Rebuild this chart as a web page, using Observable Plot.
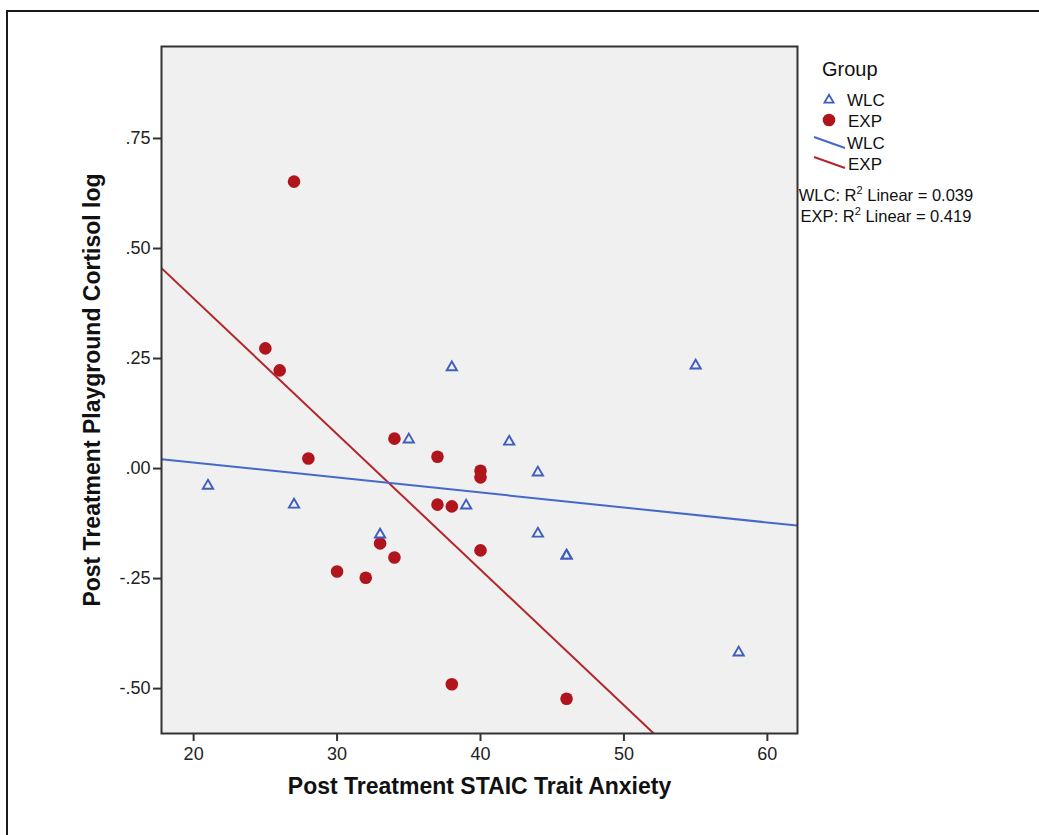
<!DOCTYPE html>
<html><head><meta charset="utf-8">
<script src="https://cdn.jsdelivr.net/npm/d3@7"></script>
<script src="https://cdn.jsdelivr.net/npm/@observablehq/plot@0.6"></script>
<style>
body{margin:0;background:#fff;font-family:"Liberation Sans",Arial,sans-serif}
#wrap{position:relative;width:1039px;height:835px;overflow:hidden}
#border{position:absolute;left:6px;top:10px;width:1100px;height:900px;border-left:2px solid #1a1a1a;border-top:2px solid #1a1a1a;pointer-events:none}
#wrap svg{position:absolute;left:0;top:0}
</style></head><body><div id="wrap"><div id="border"></div></div>
<script>
const groups = ["WLC", "EXP"];
const wlcAnxiety  = [21, 27, 33, 35, 38, 39, 42, 44, 44, 46, 46, 55, 58];
const wlcCortisol = [-0.039, -0.082, -0.150, 0.066, 0.230, -0.084, 0.061, -0.009, -0.148, -0.198, -0.198, 0.234, -0.418];
const expAnxiety  = [27, 25, 26, 28, 34, 37, 40, 40, 37, 38, 33, 34, 40, 30, 32, 38, 46];
const expCortisol = [0.652, 0.273, 0.223, 0.023, 0.068, 0.027, -0.005, -0.020, -0.082, -0.086, -0.170, -0.202, -0.186, -0.234, -0.248, -0.490, -0.523];
const xTicks = [20, 30, 40, 50, 60];
const yTicks = [-0.5, -0.25, 0, 0.25, 0.5, 0.75];
const r2Labels = [["WLC", "0.039"], ["EXP", "0.419"]];
const xTitle = "Post Treatment STAIC Trait Anxiety";
const yTitle = "Post Treatment Playground Cortisol log";
const legendTitle = "Group";

const xDomain = [17.76, 62.1];
const yDomain = [-0.602, 0.959];
const RED = "#b0141c", BLUE = "#3e5dbf", LRED = "#b3262a", LBLUE = "#4668c8";

const wlc = wlcAnxiety.map((x, i) => ({x, y: wlcCortisol[i], g: groups[0]}));
const exp = expAnxiety.map((x, i) => ({x, y: expCortisol[i], g: groups[1]}));

function fit(rows) {
  const mx = d3.mean(rows, d => d.x), my = d3.mean(rows, d => d.y);
  const b = d3.sum(rows, d => (d.x - mx) * (d.y - my)) / d3.sum(rows, d => (d.x - mx) ** 2);
  const a = my - b * mx;
  return xDomain.map(x => ({x, y: a + b * x}));
}
const wlcFit = fit(wlc), expFit = fit(exp);
const fmt = d => (d < 0 ? "-" : "") + Math.abs(d).toFixed(2).replace(/^0/, "");

const chart = Plot.plot({
  width: 1039, height: 835,
  marginLeft: 161, marginRight: 242, marginTop: 46, marginBottom: 102,
  style: {fontFamily: "'Liberation Sans', Arial, sans-serif", background: "transparent", overflow: "visible"},
  x: {domain: xDomain, ticks: xTicks},
  y: {domain: yDomain, ticks: yTicks},
  marks: [
    Plot.frame({fill: "#f0f0f0"}),
    Plot.line(expFit, {x: "x", y: "y", stroke: LRED, strokeWidth: 2, clip: true}),
    Plot.line(wlcFit, {x: "x", y: "y", stroke: LBLUE, strokeWidth: 2, clip: true}),
    Plot.dot(exp, {x: "x", y: "y", r: 6.3, fill: RED, stroke: "none"}),
    Plot.dot(wlc, {x: "x", y: "y", symbol: "triangle", r: 3.8, fill: "none", stroke: BLUE, strokeWidth: 1.9}),
    Plot.frame({stroke: "#333", strokeWidth: 2}),
    Plot.axisX({ticks: xTicks, tickSize: 8, tickPadding: 6, fontSize: 18, label: null, stroke: "#333", strokeWidth: 2, color: "#222"}),
    Plot.axisY({ticks: yTicks, tickSize: 8, tickPadding: 3, fontSize: 18, label: null, tickFormat: fmt, stroke: "#333", strokeWidth: 2, color: "#222"}),
    Plot.text([xTitle], {frameAnchor: "bottom", dy: 60, fontSize: 23, fontWeight: "bold", fill: "#111", textAnchor: "middle"}),
    Plot.text([yTitle], {frameAnchor: "left", dx: -69, rotate: -90, fontSize: 23, fontWeight: "bold", fill: "#111", textAnchor: "middle"})
  ]
});
document.getElementById("wrap").appendChild(chart);

// legend
const svg = d3.select(chart);
const lg = svg.append("g").attr("font-family", "'Liberation Sans', Arial, sans-serif").attr("fill", "#111").attr("text-anchor", "start");
lg.append("text").attr("x", 822).attr("y", 76).attr("font-size", 20).text(legendTitle);
lg.append("path").attr("d", d3.symbol(d3.symbolTriangle, 36)()).attr("transform", "translate(829,100)")
  .attr("fill", "none").attr("stroke", BLUE).attr("stroke-width", 1.8);
lg.append("text").attr("x", 847).attr("y", 106).attr("font-size", 17).text(groups[0]);
lg.append("circle").attr("cx", 829).attr("cy", 120).attr("r", 6.3).attr("fill", RED);
lg.append("text").attr("x", 848).attr("y", 127).attr("font-size", 17).text(groups[1]);
lg.append("line").attr("x1", 814).attr("y1", 137).attr("x2", 845).attr("y2", 148).attr("stroke", LBLUE).attr("stroke-width", 2);
lg.append("text").attr("x", 847).attr("y", 149).attr("font-size", 17).text(groups[0]);
lg.append("line").attr("x1", 814).attr("y1", 157).attr("x2", 845).attr("y2", 168).attr("stroke", LRED).attr("stroke-width", 2);
lg.append("text").attr("x", 848).attr("y", 170).attr("font-size", 17).text(groups[1]);
r2Labels.forEach(([g, v], i) => {
  const t = lg.append("text").attr("x", 886).attr("y", 201 + i * 21).attr("font-size", 16.5).attr("text-anchor", "middle");
  t.append("tspan").text(g + ": R");
  t.append("tspan").attr("font-size", 11).attr("dy", -7).text("2");
  t.append("tspan").attr("dy", 7).text(" Linear = " + v);
});
</script>
</body></html>
